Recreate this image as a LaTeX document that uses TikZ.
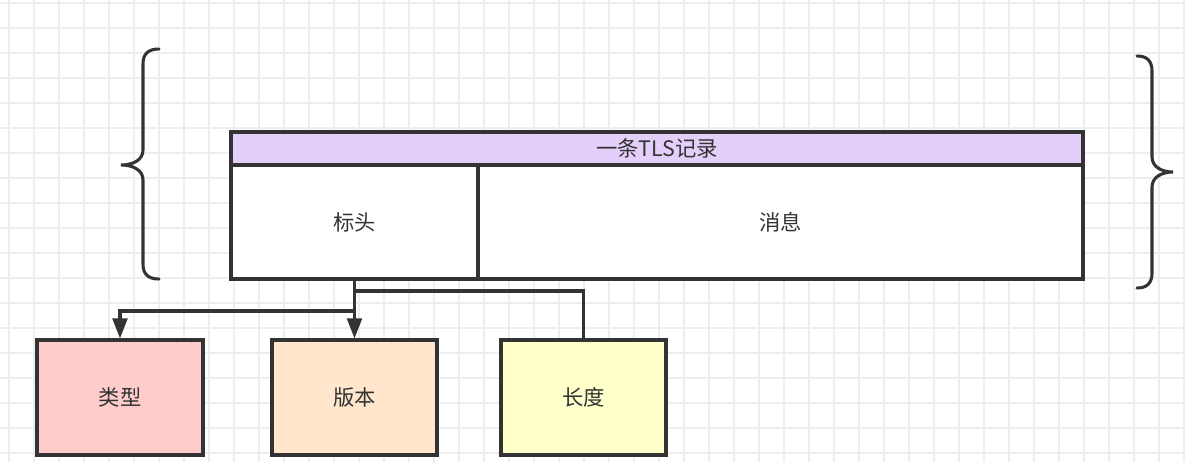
\documentclass[tikz,border=0pt]{standalone}
\usepackage{fontspec}
\usepackage{xcolor}
\usepackage{tikz}
\usetikzlibrary{arrows.meta,positioning}
\newfontfamily\cjk{Noto Sans CJK SC}

\definecolor{linegray}{HTML}{333333}
\definecolor{gridgray}{HTML}{EEEEEE}
\definecolor{recpurple}{HTML}{E3CFFA}
\definecolor{typered}{HTML}{FFCCCC}
\definecolor{verorange}{HTML}{FFE6CC}
\definecolor{lenyellow}{HTML}{FFFFCC}

\tikzset{
    cell/.style={draw=linegray, line width=2.3pt, inner sep=0pt, text=linegray,
        font=\cjk\fontsize{16}{19}\selectfont},
    link/.style={draw=linegray, line width=2.3pt},
    brace/.style={draw=linegray, line width=2.3pt, line cap=round},
}

\begin{document}
\begin{tikzpicture}[x=0.75pt,y=-0.75pt]
        \useasboundingbox (0,0) rectangle (1185,462);
        \fill[white] (0,0) rectangle (1185,462);
        % background grid
        \foreach \x in {9,34,...,1185} {
            \draw[gridgray, line width=0.9pt] (\x,0) -- (\x,462);
        }
        \foreach \y in {3,28,...,462} {
            \draw[gridgray, line width=0.9pt] (0,\y) -- (1185,\y);
        }
        % the record
        \node[cell, fill=recpurple, minimum width=639pt, minimum height=24.75pt] (rec) at (657,148.5) {一条TLS记录};
        \node[cell, fill=white, minimum width=185.25pt, minimum height=85.5pt] (hdr) at (354.5,222) {标头};
        \node[cell, fill=white, minimum width=453.75pt, minimum height=85.5pt] (msg) at (780.5,222) {消息};
        % header fields
        \node[cell, fill=typered, minimum width=124.5pt, minimum height=86.25pt] (type) at (120,397.5) {类型};
        \node[cell, fill=verorange, minimum width=123.75pt, minimum height=86.25pt] (ver) at (354.5,397.5) {版本};
        \node[cell, fill=lenyellow, minimum width=123.75pt, minimum height=86.25pt] (len) at (583.5,397.5) {长度};
        \coordinate (tbend) at (120,311);
        \coordinate (lbend) at (583.5,291);
        \draw[link, -{Triangle[length=15pt,width=11pt]}] (hdr.south) |- (tbend) -- (type.north);
        \draw[link, -{Triangle[length=15pt,width=11pt]}] (hdr.south) -- (ver.north);
        \draw[link] (hdr.south) |- (lbend) -- (len.north);
        % braces
        \draw[brace] (159,49) .. controls (148,49) and (143,54) .. (143,64) -- (143,150)
            .. controls (143,160) and (133,165) .. (121,165)
            .. controls (133,165) and (143,170) .. (143,180) -- (143,264)
            .. controls (143,274) and (148,279) .. (159,279);
        \draw[brace] (1137,56) .. controls (1147,56) and (1152,61) .. (1152,71) -- (1152,157)
            .. controls (1152,167) and (1162,172) .. (1173,172)
            .. controls (1162,172) and (1152,177) .. (1152,187) -- (1152,273)
            .. controls (1152,283) and (1147,288) .. (1137,288);
    \end{tikzpicture}
\end{document}
